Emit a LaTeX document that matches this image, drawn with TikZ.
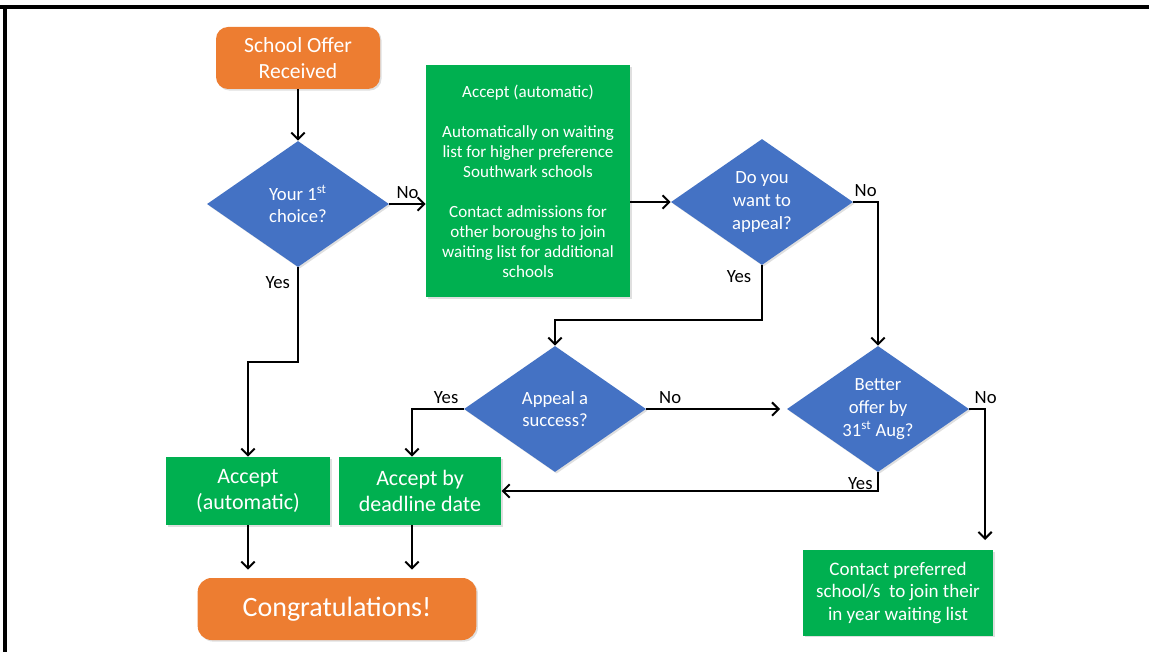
\documentclass[tikz,border=0pt]{standalone}
\usepackage{fontspec}
\setmainfont{Carlito}
\usetikzlibrary{arrows.meta,shapes.geometric,shadows}

\definecolor{offerorange}{HTML}{ED7D31}
\definecolor{askblue}{HTML}{4472C4}
\definecolor{actgreen}{HTML}{00B050}

\tikzset{
    softshadow/.style={drop shadow={shadow xshift=1.2pt,shadow yshift=-1.2pt,opacity=.25}},
    terminal/.style={rectangle,rounded corners=9pt,fill=offerorange,text=white,
        align=center,softshadow},
    decision/.style={diamond,aspect=1.44,inner sep=0pt,fill=askblue,text=white,
        align=center,minimum width=136.5pt,minimum height=94.5pt,
        font=\fontsize{14}{17}\selectfont,softshadow},
    action/.style={rectangle,fill=actgreen,text=white,align=center,softshadow},
    conn/.style={draw=black,line width=1.5pt,-{Straight Barb[length=5pt,width=10pt]}},
    lbl/.style={text=black,font=\fontsize{14}{16}\selectfont}
}

\begin{document}
\begin{tikzpicture}[x=0.75pt,y=-0.75pt]
    \useasboundingbox (0,0) rectangle (1149,652);
    \draw [line width=2.4pt] (0,7) -- (1149,7);
    \draw [line width=2.4pt] (5,7) -- (5,652);

    \node [terminal,minimum width=123pt,minimum height=46.5pt,
        font=\fontsize{16.2}{19.5}\selectfont] (offer) at (298,58)
        {School Offer\\Received};
    \node [decision] (first) at (298,204) {Your 1\textsuperscript{st}\\choice?};
    \node [action,minimum width=153pt,minimum height=174pt,
        font=\fontsize{12.8}{15}\selectfont] (waitlist) at (528,181)
        {Accept (automatic)\\[15pt]
         Automatically on waiting\\list for higher preference\\Southwark schools\\[15pt]
         Contact admissions for\\other boroughs to join\\waiting list for additional\\schools};
    \node [decision] (appeal) at (762,202) {Do you\\want to\\appeal?};
    \node [decision] (success) at (555,409) {Appeal a\\success?};
    \node [decision] (better) at (878,409) {Better\\offer by\\31\textsuperscript{st} Aug?};
    \node [action,minimum width=123pt,minimum height=51pt,
        font=\fontsize{16.5}{19}\selectfont] (auto) at (248,491)
        {Accept\\(automatic)};
    \node [action,minimum width=122pt,minimum height=51pt,
        font=\fontsize{16.5}{19}\selectfont] (deadline) at (420,491)
        {Accept by\\deadline date};
    \node [terminal,rounded corners=10.5pt,minimum width=209pt,minimum height=46.5pt,
        font=\fontsize{21}{24}\selectfont] (congrats) at (337,609)
        {Congratulations!};
    \node [action,minimum width=142.5pt,minimum height=64pt,
        font=\fontsize{14.3}{17}\selectfont] (contact) at (898,593)
        {Contact preferred\\school/s~~to join their\\in year waiting list};
    \coordinate (contactin) at (985,540);

    % connectors
    \draw [conn] (offer) -- (first);
    \draw [conn] (first.east) -- node [lbl,above] {No} (first.east -| waitlist.west);
    \draw [conn] (waitlist.east |- appeal.west) -- (appeal.west);
    \draw [conn] (appeal.east) -| node [lbl,above,pos=.25] {No} (better.north);
    \draw [conn] (appeal.south) node [lbl,below left,xshift=-4pt] {Yes}
        -- ++(0,55) -| (success.north);
    \draw [conn] (first.south) node [lbl,below left,xshift=-2pt,yshift=-3pt] {Yes}
        -- ++(0,95) -| (auto.north);
    \draw [conn] (success.west) node [lbl,above left] {Yes}
        -| ([xshift=-6pt]deadline.north);
    \draw [conn,shorten >=5pt] (success.east) -- node [lbl,above,pos=.17] {No} (better.west);
    \draw [conn] (better.east) node [lbl,above right] {No} -| (contactin);
    \draw [conn] (better.south) node [lbl,below left] {Yes} |- (deadline.east);
    \draw [conn,shorten >=6pt] (auto.south) -- (auto.south |- congrats.north);
    \draw [conn,shorten >=6pt] ([xshift=-6pt]deadline.south) -- ([xshift=-6pt]deadline.south |- congrats.north);
\end{tikzpicture}
\end{document}
